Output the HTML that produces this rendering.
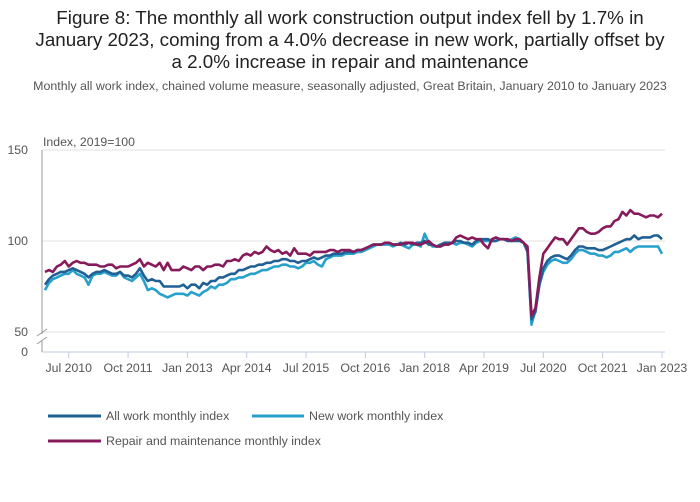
<!DOCTYPE html>
<html><head><meta charset="utf-8"><style>
body{margin:0;background:#fff;font-family:"Liberation Sans",sans-serif;}
#wrap{position:relative;width:700px;height:502px;overflow:hidden;}
</style></head><body>
<div id="wrap">
<svg id="chart" width="700" height="502" font-family="Liberation Sans, sans-serif">
<text x="350" y="24" font-size="18.8" fill="#222" text-anchor="middle">Figure 8: The monthly all work construction output index fell by 1.7% in</text>
<text x="350" y="46" font-size="18.8" fill="#222" text-anchor="middle">January 2023, coming from a 4.0% decrease in new work, partially offset by</text>
<text x="350" y="68" font-size="18.8" fill="#222" text-anchor="middle">a 2.0% increase in repair and maintenance</text>
<text x="350" y="90" font-size="12.4" fill="#555" text-anchor="middle">Monthly all work index, chained volume measure, seasonally adjusted, Great Britain, January 2010 to January 2023</text>
<text x="43" y="146" font-size="12.3" fill="#555">Index, 2019=100</text>
<g id="grid"></g>
<g id="axes"></g>
<g id="series"></g>
<g id="legend">
<line x1="48" y1="416" x2="101" y2="416" stroke="#206095" stroke-width="3"/>
<text x="106" y="420" font-size="12.4" fill="#555">All work monthly index</text>
<line x1="252" y1="416" x2="304" y2="416" stroke="#27a0cc" stroke-width="3"/>
<text x="309" y="420" font-size="12.4" fill="#555">New work monthly index</text>
<line x1="48" y1="441" x2="101" y2="441" stroke="#871a5b" stroke-width="3"/>
<text x="106" y="445" font-size="12.4" fill="#555">Repair and maintenance monthly index</text>
</g>
</svg>
</div>
<script>
const allWork=[76,79,81,82,83,83,84,85,84,83,82,80,
82,83,83,84,83,82,82,83,81,81,80,82,
85,81,78,79,78,78,75,75,75,75,75,76,
74,76,76,74,77,76,78,78,80,80,81,82,
82,84,84,85,86,86,87,87,88,88,89,89,
90,90,89,89,88,89,89,90,91,90,91,92,
92,93,93,93,94,94,94,95,95,96,97,98,
98,98,99,99,98,98,99,98,99,98,99,99,
100,98,98,97,98,99,99,99,100,100,99,99,
98,100,101,101,101,100,100,101,101,100,100,100,
100,99,94,57,61,76,85,89,91,92,92,91,
90,92,95,97,97,96,96,96,95,95,96,97,
98,99,100,101,101,103,101,102,102,102,103,103,
101];
const newWork=[73,77,79,80,81,82,82,84,82,81,80,76,
81,82,82,83,82,81,81,83,80,79,78,80,
82,78,73,74,73,71,70,69,70,71,71,71,
70,72,71,70,72,73,75,74,76,76,77,79,
79,80,80,81,82,82,83,84,84,85,86,86,
87,87,86,86,85,86,88,88,89,87,86,90,
91,92,92,92,93,93,93,94,94,95,96,97,
98,98,98,98,97,98,98,97,96,98,98,97,
104,99,97,97,97,98,98,99,98,99,99,98,
97,99,100,100,100,100,100,101,101,100,101,102,
101,99,95,54,62,76,83,87,89,90,89,88,
88,90,93,95,95,94,93,93,92,92,91,92,
94,94,95,96,94,96,97,97,97,97,97,97,
93];
const repair=[83,84,83,86,87,89,86,88,89,88,88,87,
87,87,86,86,87,87,85,86,86,86,87,88,
90,86,88,87,86,88,84,88,84,84,84,86,
85,84,86,86,84,86,86,87,87,86,89,89,
90,89,92,93,92,94,93,94,97,95,94,95,
93,94,92,96,93,93,93,92,94,94,94,94,
95,95,94,95,95,95,94,95,95,96,97,98,
98,98,99,99,98,98,98,99,99,99,98,98,
99,100,98,97,97,98,98,99,102,103,102,101,
102,101,101,98,96,101,102,101,101,101,100,101,
101,99,97,59,63,80,93,96,99,102,101,101,
98,101,104,107,107,105,104,104,105,107,108,108,
111,112,116,114,117,115,115,114,113,114,114,113,
115];
const tickLabels=["Jul 2010","Oct 2011","Jan 2013","Apr 2014","Jul 2015","Oct 2016","Jan 2018","Apr 2019","Jul 2020","Oct 2021","Jan 2023"];
const tickMonths=[6,21,36,51,66,81,96,111,126,141,156];
const yTicks=[50,100,150];

const NS="http://www.w3.org/2000/svg";
const xS=m=>45+m*3.955;
const yS=v=>241-(v-100)*1.82;
function mk(tag,attrs,parent){const e=document.createElementNS(NS,tag);for(const k in attrs)e.setAttribute(k,attrs[k]);parent.appendChild(e);return e;}
const grid=document.getElementById('grid'),axes=document.getElementById('axes'),ser=document.getElementById('series');
yTicks.forEach(v=>{
  const l=mk('line',{x1:42,x2:665,y1:yS(v),y2:yS(v),stroke:'#e0e0e0','stroke-width':1},grid);
  
  
  const t=mk('text',{x:28,y:yS(v)+4,'font-size':12.3,fill:'#555','text-anchor':'end'},axes);
  t.textContent=v;
  
  
});
const z=mk('text',{x:28,y:356,'font-size':12.3,fill:'#555','text-anchor':'end'},axes);
z.textContent='0';


const ya=mk('path',{d:'M42 150 V334 M37 336 L47 329 M37 344 L47 337 M42 341 V352',stroke:'#999','stroke-width':1,fill:'none'},axes);


const xa=mk('line',{x1:42,x2:665,y1:352,y2:352,stroke:'#bfcbe0','stroke-width':1},axes);


tickMonths.forEach((m,i)=>{
  const tk=mk('line',{x1:xS(m),x2:xS(m),y1:352,y2:358,stroke:'#bfcbe0','stroke-width':1},axes);
  
  
  const t=mk('text',{x:xS(m),y:372,'font-size':12.3,fill:'#555','text-anchor':'middle'},axes);
  t.textContent=tickLabels[i];
  
  
});
function line(data,color,name){
  const d=data.map((v,i)=>(i?'L':'M')+xS(i).toFixed(1)+' '+yS(v).toFixed(1)).join(' ');
  const p=mk('path',{d:d,stroke:color,'stroke-width':2.6,fill:'none','stroke-linejoin':'round'},ser);
  
  
}
line(newWork,'#27a0cc','new-work-line');
line(allWork,'#206095','all-work-line');
line(repair,'#871a5b','repair-maintenance-line');
</script>
</body></html>
